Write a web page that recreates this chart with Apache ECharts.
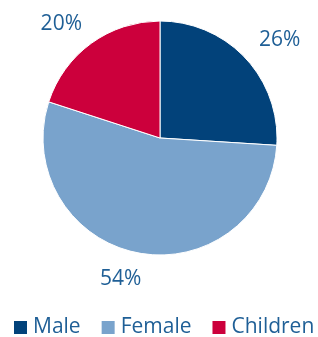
<!DOCTYPE html>
<html>
<head>
<meta charset="utf-8">
<script src="https://cdn.jsdelivr.net/npm/echarts@6/dist/echarts.min.js"></script>
<style>
  html, body { margin: 0; padding: 0; background: #fff; }
  #chart { width: 318px; height: 337px; }
</style>
</head>
<body>
<div id="chart"></div>
<script>
const categories = ['Male', 'Female', 'Children']
const shares = [26, 54, 20]
const colors = ['#02427A', '#79A3CC', '#CC003C']
// nudges for the percentage labels, in px
const labelNudge = [[6, 9], [-10, -12], [-7, 12]]

const chart = echarts.init(document.getElementById('chart'))

const textColor = '#1F5F96'

chart.setOption({
  animation: false,
  legend: {
    data: categories,
    top: 317,
    left: 12,
    width: 306,
    padding: 0,
    icon: 'rect',
    itemWidth: 15,
    itemHeight: 15,
    itemGap: 19,
    textStyle: { fontFamily: 'Open Sans', fontSize: 21, color: textColor }
  },
  series: [
    {
      type: 'pie',
      center: [160, 138],
      radius: 117,
      startAngle: 90,
      clockwise: true,
      data: categories.map((name, i) => ({
        name, value: shares[i], itemStyle: { color: colors[i] }
      })),
      label: { show: false },
      labelLine: { show: false },
      itemStyle: { borderColor: '#fff', borderWidth: 1 },
      emphasis: { disabled: true }
    },
    {
      // transparent ring only used to place the percentage labels
      type: 'pie',
      center: [160, 138],
      radius: [120, 186],
      startAngle: 90,
      clockwise: true,
      silent: true,
      data: categories.map((name, i) => ({
        name,
        value: shares[i],
        itemStyle: { color: 'transparent' },
        label: { offset: labelNudge[i] }
      })),
      label: {
        show: true,
        position: 'inside',
        formatter: p => p.value + '%',
        fontFamily: 'Open Sans',
        fontSize: 21,
        color: textColor
      },
      labelLine: { show: false },
      emphasis: { disabled: true }
    }
  ]
})
</script>
</body>
</html>
